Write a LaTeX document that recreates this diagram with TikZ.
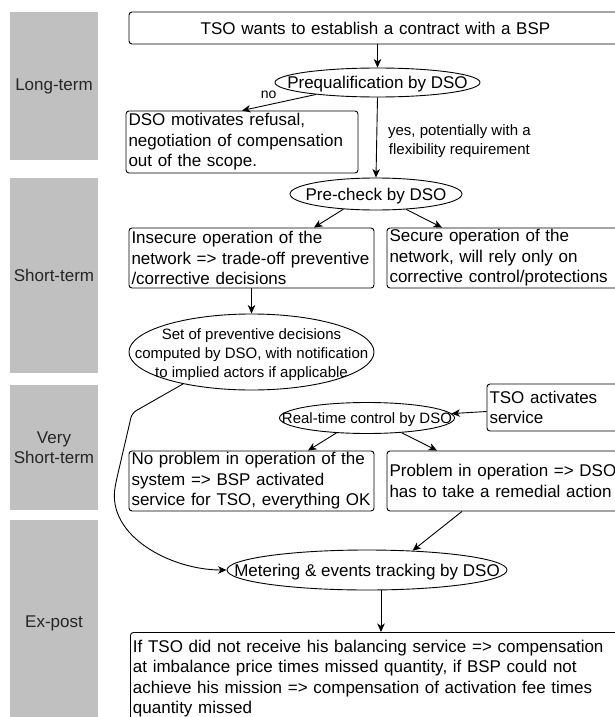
\documentclass[tikz,border=0pt]{standalone}
\usepackage{fontspec}
\setmainfont{Liberation Sans}
\usetikzlibrary{arrows.meta,shapes.geometric,calc}
\definecolor{bandgray}{HTML}{C0C0C0}
\definecolor{bandtext}{HTML}{262626}
\newcommand{\ctext}[1]{\makebox[0pt]{\smash{\raisebox{-.36em}{#1}}}}
\newcommand{\ctab}[1]{\makebox[0pt]{\smash{\raisebox{-.39em}{\begin{tabular}{@{}c@{}}#1\end{tabular}}}}}
\begin{document}
\begin{tikzpicture}[x=1pt,y=-1pt,
  fs17/.style={font=\fontsize{17}{20.5}\selectfont},
  fs15/.style={font=\fontsize{15}{19}\selectfont},
  fs14/.style={font=\fontsize{14}{17}\selectfont},
  band/.style={fill=bandgray, draw=none, inner sep=0pt, fs17, text=bandtext, align=center},
  box/.style={draw, rounded corners=3pt, line width=0.9pt, inner xsep=2.5pt, inner ysep=0pt, align=left, fs17},
  ell/.style={draw, ellipse, line width=0.9pt, inner sep=0pt},
  arr/.style={-{Stealth[length=8.5pt,width=7.5pt,inset=2.5pt]}, line width=0.9pt},
]
\useasboundingbox (0,0) rectangle (615,717);
\fill[white] (0,0) rectangle (615,717);
\clip (0,0) rectangle (615,717);

% time bands
\node[band, minimum width=88pt, minimum height=148pt] (lt) at (54,86) {Long-term};
\node[band, minimum width=88pt, minimum height=195pt] (st) at (54,275.5) {Short-term};
\node[band, minimum width=88pt, minimum height=125pt] (vst) at (54,447.5) {Very\\Short-term};
\node[band, minimum width=88pt, minimum height=206pt] (ep) at (54,623) {Ex-post};

% boxes
\node[box, align=center, minimum width=493pt, minimum height=32pt, text width=488pt] (top) at (375.5,28) {TSO wants to establish a contract with a BSP};
\node[ell, fs17, minimum width=205pt, minimum height=29pt] (preq) at (377.5,82.5) {\ctext{Prequalification by DSO}};
\node[box, minimum width=232pt, minimum height=62pt, text width=227pt] (dso) at (242,142) {DSO motivates refusal,\\negotiation of compensation\\out of the scope.};
\node[ell, fs17, minimum width=172pt, minimum height=32pt] (precheck) at (376,194) {\ctext{Pre-check by DSO}};
\node[box, minimum width=245pt, minimum height=60pt, text width=240pt] (insecure) at (251.5,258) {Insecure operation of the\\network => trade-off preventive\\/corrective decisions};
\node[box, minimum width=235pt, minimum height=60pt, text width=230pt] (secure) at (504.5,258) {Secure operation of the\\network, will rely only on\\corrective control/protections};
\node[ell, fs15, minimum width=245pt, minimum height=76pt] (setp) at (251.5,352) {\ctab{Set of preventive decisions\\computed by DSO, with notification\\to implied actors if applicable}};
\node[ell, fs15, minimum width=175pt, minimum height=31pt] (rt) at (367,418) {\ctext{Real-time control by DSO}};
\node[box, minimum width=135pt, minimum height=47pt, text width=130pt] (tsoact) at (554.5,407.5) {TSO activates\\service};
\node[box, minimum width=245pt, minimum height=60pt, text width=240pt] (noprob) at (251.5,481) {No problem in operation of the\\system => BSP activated\\service for TSO, everything OK};
\node[box, minimum width=235pt, minimum height=60pt, text width=230pt] (prob) at (504.5,481) {Problem in operation => DSO\\has to take a remedial action};
\node[ell, fs17, minimum width=280pt, minimum height=40pt] (meter) at (367,570) {\ctext{Metering \& events tracking by DSO}};
\node[box, anchor=north west, inner ysep=7.6pt, minimum width=492pt, text width=487pt] (bottom) at (130,632) {If TSO did not receive his balancing service => compensation\\at imbalance price times missed quantity, if BSP could not\\achieve his mission => compensation of activation fee times\\quantity missed};

% connectors
\draw[arr] (preq.north |- top.south) -- (preq.north);
\draw[arr] (preq.191) -- node[fs14, pos=.64, above=6pt, inner sep=0pt] (nolbl) {no} (dso.north);
\draw[arr] (preq.south) -- node[fs15, pos=.55, right=11pt, inner sep=0pt, align=center] (yeslbl) {yes, potentially with a\\flexibility requirement} (precheck.north);
\draw[arr] (precheck.205.7) -- ([xshift=62.5pt]insecure.north);
\draw[arr] (precheck.-27.3) -- ([xshift=-62.5pt]secure.north);
\draw[arr] (insecure.south) -- (setp.north);
\coordinate (k1) at (132,413);
\coordinate (k2) at (116,482);
\draw[arr, rounded corners=5pt] (setp.205.6) -- (k1) -- (k2) to[out=-100,in=180] (meter.west);
\draw[arr] ([yshift=-4pt]tsoact.west) -- (rt.3);
\draw[arr] (rt.206.7) -- ([xshift=56.5pt]noprob.north);
\draw[arr] (rt.-23.6) -- ([xshift=-67.5pt]prob.north);
\draw[arr] ([xshift=-42.5pt]prob.south) -- (meter.23.8);
\draw[arr] ([xshift=14pt]meter.south) -- ([xshift=14pt]meter.south |- bottom.north);
\end{tikzpicture}
\end{document}
